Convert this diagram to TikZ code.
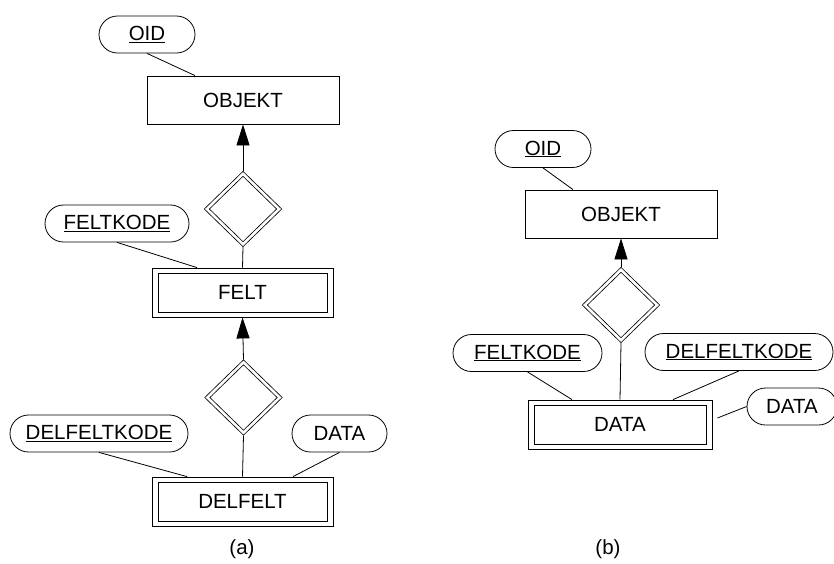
\documentclass[tikz,border=0pt]{standalone}
\usepackage{fontspec}
\setmainfont{Liberation Sans}
\usetikzlibrary{arrows.meta,shapes.geometric,shapes.misc}
\tikzset{
  er_node/.style = {inner sep=0pt, align=center, line width=0.8pt,
    font=\fontsize{20.5}{24}\selectfont},
  er_attr/.style = {er_node, rounded rectangle, draw,
    minimum height=37pt},% attribut
  er_ent/.style = {er_node, rectangle, draw,
    minimum width=192pt, minimum height=48pt},% entitet
  er_weak/.style = {er_node, rectangle, draw,
    minimum width=181pt, minimum height=49pt,
    path picture={\draw ([shift={(6pt,5pt)}]path picture bounding box.south west)
      rectangle ([shift={(-6pt,-5pt)}]path picture bounding box.north east);}},% svak entitet
  er_rel/.style = {er_node, diamond, draw, double, double distance=2.6pt,
    outer sep=2pt, minimum width=74pt, minimum height=72pt}% identifiserende relasjon
}
\begin{document}
\begin{tikzpicture}[x=1pt, y=-1pt, line width=0.8pt,
  >={Triangle[length=21pt,width=13pt]}]
\useasboundingbox (0,0) rectangle (834,563);
% (a)
\node [er_attr, minimum width=96pt] (oid_a) at (147,34.5) {\underline{OID}};
\node [er_ent] (obj_a) at (243,100) {OBJEKT};
\node [er_rel] (rel_a1) at (243,209) {};
\node [er_attr, minimum width=144pt] (feltkode_a) at (117,223.5) {\underline{FELTKODE}};
\node [er_weak] (felt_a) at (242.5,292.5) {FELT};
\node [er_rel] (rel_a2) at (243.5,397.5) {};
\node [er_attr, minimum width=178pt] (delfeltkode_a) at (99,433.5) {\underline{DELFELTKODE}};
\node [er_attr, minimum width=95pt] (data_a) at (339.5,433.5) {DATA};
\node [er_weak] (delfelt_a) at (242.5,501.5) {DELFELT};
\node [er_node] (cap_a) at (242,549) {(a)};

\draw (oid_a.south) -- ([xshift=-48pt]obj_a.north);
\draw [->] (rel_a1.north) -- (obj_a.south);
\draw (rel_a1.south) -- (felt_a.north);
\draw (feltkode_a.south) -- ([xshift=-45.5pt]felt_a.north);
\draw [->] (rel_a2.north) -- (felt_a.south);
\draw (rel_a2.south) -- (delfelt_a.north);
\draw (delfeltkode_a.south) -- ([xshift=-55.5pt]delfelt_a.north);
\draw (data_a.south) -- ([xshift=50.5pt]delfelt_a.north);

% (b)
\node [er_attr, minimum width=96pt] (oid_b) at (543,149) {\underline{OID}};
\node [er_ent] (obj_b) at (621,214) {OBJEKT};
\node [er_rel] (rel_b) at (621,305) {};
\node [er_attr, minimum width=149pt] (feltkode_b) at (527.5,353) {\underline{FELTKODE}};
\node [er_attr, minimum width=188pt] (delfeltkode_b) at (739,352) {\underline{DELFELTKODE}};
\node [er_weak, minimum width=184pt] (data_ent_b) at (620,424.5) {DATA};
\node [er_attr, minimum width=90pt] (data_b) at (792,406.5) {DATA};
\node [er_node] (cap_b) at (608,549) {(b)};

\draw (oid_b.south) -- ([xshift=-48pt]obj_b.north);
\draw [->] (rel_b.north) -- (obj_b.south);
\draw (rel_b.south) -- (data_ent_b.north);
\draw (feltkode_b.south) -- ([xshift=-48pt]data_ent_b.north);
\draw (delfeltkode_b.south) -- ([xshift=53pt]data_ent_b.north);
\draw (data_b.west) -- ([xshift=5pt,yshift=6.5pt]data_ent_b.east);
\end{tikzpicture}
\end{document}
